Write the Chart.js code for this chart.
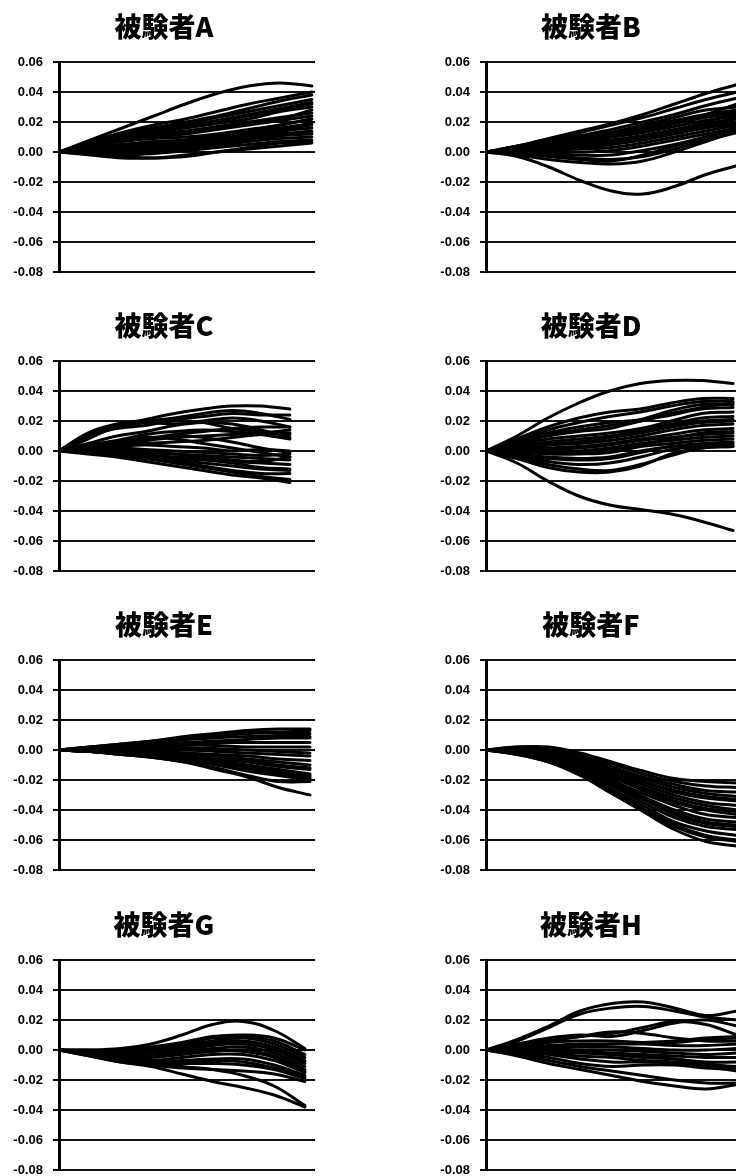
<!DOCTYPE html>
<html>
<head>
<meta charset="utf-8">
<script src="https://cdn.jsdelivr.net/npm/chart.js@4.4.1/dist/chart.umd.min.js"></script>
<style>
  html, body { margin: 0; padding: 0; background: #fff; overflow: hidden; }
  body { width: 736px; height: 1176px; position: relative; }
  canvas { position: absolute; }
</style>
</head>
<body>
<script>
// Titles and axis ticks
const titles = ['被験者A', '被験者B', '被験者C', '被験者D', '被験者E', '被験者F', '被験者G', '被験者H'];
const yTicks = [-0.08, -0.06, -0.04, -0.02, 0.00, 0.02, 0.04, 0.06];
const steps = [0, 1, 2, 3, 4, 5, 6, 7, 8];

// One array of trajectories per subject
const subjectA = [
  [0, 0.008, 0.016, 0.024, 0.032, 0.039, 0.044, 0.046, 0.044],
  [0, 0.007, 0.013, 0.018, 0.022, 0.027, 0.032, 0.036, 0.040],
  [0, 0.006, 0.012, 0.016, 0.020, 0.024, 0.029, 0.034, 0.038],
  [0, 0.006, 0.011, 0.016, 0.019, 0.023, 0.027, 0.031, 0.035],
  [0, 0.006, 0.011, 0.015, 0.018, 0.021, 0.025, 0.029, 0.033],
  [0, 0.005, 0.010, 0.013, 0.016, 0.019, 0.022, 0.027, 0.030],
  [0, 0.004, 0.008, 0.011, 0.013, 0.016, 0.019, 0.022, 0.028],
  [0, 0.005, 0.009, 0.012, 0.014, 0.017, 0.020, 0.023, 0.026],
  [0, 0.004, 0.008, 0.010, 0.012, 0.015, 0.018, 0.021, 0.024],
  [0, 0.004, 0.007, 0.009, 0.010, 0.012, 0.015, 0.018, 0.022],
  [0, 0.001, 0.001, 0.002, 0.003, 0.005, 0.009, 0.013, 0.020],
  [0, 0.003, 0.005, 0.007, 0.008, 0.010, 0.013, 0.016, 0.019],
  [0, 0.002, 0.004, 0.005, 0.006, 0.008, 0.012, 0.015, 0.018],
  [0, 0.003, 0.005, 0.006, 0.007, 0.009, 0.011, 0.014, 0.016],
  [0, 0.002, 0.003, 0.004, 0.005, 0.007, 0.010, 0.012, 0.014],
  [0, -0.001, -0.002, -0.001, 0.001, 0.004, 0.008, 0.011, 0.013],
  [0, 0.001, 0.002, 0.003, 0.004, 0.006, 0.008, 0.011, 0.012],
  [0, 0.000, 0.000, 0.001, 0.002, 0.004, 0.007, 0.009, 0.010],
  [0, -0.001, -0.001, 0.000, 0.001, 0.003, 0.005, 0.007, 0.008],
  [0, -0.002, -0.004, -0.004, -0.003, 0.000, 0.003, 0.006, 0.007],
  [0, -0.001, -0.003, -0.004, -0.002, 0.000, 0.002, 0.004, 0.006],
  [0, 0.002, 0.004, 0.006, 0.008, 0.011, 0.014, 0.018, 0.022],
  [0, 0.005, 0.010, 0.014, 0.017, 0.020, 0.024, 0.028, 0.032]
];
const subjectB = [
  [0, -0.003, -0.010, -0.019, -0.026, -0.028, -0.023, -0.015, -0.009],
  [0, -0.002, -0.005, -0.007, -0.008, -0.006, 0.000, 0.007, 0.014],
  [0, 0.004, 0.009, 0.014, 0.019, 0.025, 0.032, 0.039, 0.045],
  [0, 0.004, 0.008, 0.013, 0.018, 0.023, 0.029, 0.035, 0.040],
  [0, 0.003, 0.007, 0.011, 0.015, 0.020, 0.025, 0.031, 0.036],
  [0, 0.002, 0.004, 0.007, 0.010, 0.014, 0.019, 0.025, 0.032],
  [0, 0.003, 0.006, 0.010, 0.013, 0.017, 0.021, 0.025, 0.028],
  [0, 0.003, 0.006, 0.009, 0.012, 0.016, 0.020, 0.024, 0.027],
  [0, 0.003, 0.006, 0.008, 0.011, 0.015, 0.019, 0.023, 0.026],
  [0, 0.002, 0.005, 0.007, 0.010, 0.013, 0.017, 0.021, 0.024],
  [0, 0.001, 0.002, 0.004, 0.006, 0.010, 0.014, 0.018, 0.023],
  [0, 0.002, 0.004, 0.006, 0.008, 0.011, 0.015, 0.019, 0.022],
  [0, 0.002, 0.003, 0.005, 0.007, 0.009, 0.013, 0.017, 0.020],
  [0, 0.001, 0.002, 0.003, 0.005, 0.008, 0.012, 0.016, 0.019],
  [0, 0.001, 0.001, 0.002, 0.003, 0.006, 0.010, 0.014, 0.018],
  [0, -0.001, -0.003, -0.005, -0.006, -0.002, 0.004, 0.010, 0.017],
  [0, 0.000, 0.000, 0.000, 0.001, 0.004, 0.008, 0.012, 0.016],
  [0, 0.000, -0.001, -0.002, -0.002, 0.001, 0.005, 0.010, 0.015],
  [0, -0.001, -0.002, -0.004, -0.005, -0.003, 0.002, 0.008, 0.013],
  [0, 0.001, 0.003, 0.004, 0.006, 0.009, 0.014, 0.020, 0.026],
  [0, 0.002, 0.005, 0.009, 0.013, 0.018, 0.023, 0.028, 0.030]
];
const subjectC = [
  [0, 0.010, 0.017, 0.021, 0.025, 0.028, 0.030, 0.030, 0.028],
  [0, 0.012, 0.018, 0.020, 0.022, 0.025, 0.027, 0.025, 0.021],
  [0, 0.011, 0.016, 0.019, 0.021, 0.023, 0.025, 0.024, 0.024],
  [0, 0.008, 0.016, 0.019, 0.018, 0.020, 0.022, 0.020, 0.016],
  [0, 0.010, 0.015, 0.017, 0.020, 0.019, 0.015, 0.013, 0.011],
  [0, 0.005, 0.010, 0.013, 0.017, 0.019, 0.018, 0.014, 0.009],
  [0, 0.002, 0.005, 0.008, 0.011, 0.013, 0.015, 0.016, 0.016],
  [0, 0.004, 0.007, 0.011, 0.013, 0.014, 0.013, 0.011, 0.008],
  [0, 0.003, 0.005, 0.007, 0.009, 0.010, 0.011, 0.012, 0.014],
  [0, 0.002, 0.004, 0.005, 0.006, 0.007, 0.009, 0.011, 0.012],
  [0, 0.001, 0.003, 0.004, 0.003, 0.002, 0.000, 0.001, 0.000],
  [0, 0.001, 0.002, 0.001, 0.000, -0.001, -0.002, -0.003, -0.002],
  [0, 0.001, 0.001, 0.000, -0.002, -0.004, -0.006, -0.007, -0.004],
  [0, 0.000, 0.000, -0.001, -0.002, -0.003, -0.004, -0.005, -0.006],
  [0, 0.000, -0.001, -0.002, -0.004, -0.005, -0.007, -0.008, -0.009],
  [0, 0.000, -0.001, -0.003, -0.005, -0.006, -0.008, -0.011, -0.012],
  [0, -0.001, -0.002, -0.004, -0.006, -0.008, -0.010, -0.012, -0.013],
  [0, -0.001, -0.003, -0.005, -0.007, -0.010, -0.013, -0.015, -0.015],
  [0, -0.001, -0.003, -0.005, -0.008, -0.011, -0.014, -0.017, -0.019],
  [0, -0.002, -0.004, -0.007, -0.010, -0.013, -0.016, -0.018, -0.021],
  [0, 0.002, 0.004, 0.007, 0.010, 0.009, 0.006, 0.002, -0.001],
  [0, 0.003, 0.006, 0.009, 0.008, 0.005, 0.002, -0.001, -0.004]
];
const subjectD = [
  [0, 0.010, 0.022, 0.032, 0.040, 0.045, 0.047, 0.047, 0.045],
  [0, -0.008, -0.020, -0.030, -0.036, -0.039, -0.042, -0.047, -0.053],
  [0, 0.008, 0.016, 0.022, 0.026, 0.028, 0.032, 0.035, 0.035],
  [0, 0.007, 0.014, 0.019, 0.023, 0.026, 0.030, 0.033, 0.033],
  [0, 0.006, 0.011, 0.014, 0.017, 0.020, 0.025, 0.029, 0.032],
  [0, 0.006, 0.012, 0.016, 0.019, 0.021, 0.027, 0.031, 0.031],
  [0, 0.005, 0.010, 0.013, 0.015, 0.020, 0.024, 0.028, 0.029],
  [0, 0.004, 0.008, 0.010, 0.012, 0.015, 0.020, 0.025, 0.026],
  [0, 0.003, 0.006, 0.008, 0.010, 0.014, 0.018, 0.022, 0.023],
  [0, 0.003, 0.005, 0.006, 0.009, 0.013, 0.017, 0.020, 0.021],
  [0, 0.002, 0.004, 0.006, 0.009, 0.012, 0.016, 0.019, 0.020],
  [0, 0.002, 0.004, 0.005, 0.007, 0.010, 0.014, 0.017, 0.018],
  [0, 0.001, 0.002, 0.003, 0.005, 0.008, 0.011, 0.014, 0.015],
  [0, 0.000, -0.001, -0.001, 0.001, 0.004, 0.008, 0.012, 0.013],
  [0, 0.001, 0.001, 0.002, 0.004, 0.007, 0.009, 0.011, 0.012],
  [0, 0.000, 0.000, 0.000, 0.002, 0.005, 0.007, 0.009, 0.010],
  [0, -0.001, -0.002, -0.002, -0.001, 0.003, 0.005, 0.007, 0.008],
  [0, -0.002, -0.004, -0.005, -0.004, 0.000, 0.003, 0.005, 0.006],
  [0, -0.003, -0.005, -0.006, -0.005, -0.001, 0.003, 0.004, 0.005],
  [0, -0.003, -0.007, -0.009, -0.008, -0.004, 0.001, 0.003, 0.004],
  [0, -0.004, -0.009, -0.012, -0.013, -0.009, -0.003, 0.002, 0.003],
  [0, -0.005, -0.011, -0.014, -0.014, -0.010, -0.002, 0.002, 0.003]
];
const subjectE = [
  [0, 0.002, 0.004, 0.006, 0.009, 0.011, 0.013, 0.014, 0.014],
  [0, 0.002, 0.004, 0.006, 0.008, 0.010, 0.012, 0.012, 0.013],
  [0, 0.001, 0.003, 0.005, 0.007, 0.009, 0.011, 0.011, 0.011],
  [0, 0.002, 0.003, 0.005, 0.007, 0.008, 0.009, 0.009, 0.009],
  [0, 0.001, 0.003, 0.004, 0.005, 0.006, 0.007, 0.008, 0.008],
  [0, 0.001, 0.002, 0.003, 0.004, 0.005, 0.005, 0.005, 0.005],
  [0, 0.001, 0.002, 0.002, 0.003, 0.003, 0.002, 0.002, 0.002],
  [0, 0.001, 0.001, 0.001, 0.001, 0.001, 0.000, -0.001, -0.002],
  [0, 0.000, 0.000, 0.000, 0.000, -0.001, -0.002, -0.003, -0.004],
  [0, 0.000, -0.001, -0.001, -0.002, -0.003, -0.004, -0.006, -0.007],
  [0, 0.000, -0.001, -0.002, -0.003, -0.004, -0.006, -0.008, -0.010],
  [0, 0.000, 0.000, -0.001, -0.002, -0.004, -0.007, -0.010, -0.012],
  [0, -0.001, -0.001, -0.002, -0.004, -0.006, -0.008, -0.011, -0.013],
  [0, -0.001, -0.002, -0.003, -0.005, -0.007, -0.010, -0.013, -0.016],
  [0, -0.001, -0.002, -0.003, -0.005, -0.008, -0.011, -0.014, -0.017],
  [0, -0.001, -0.002, -0.004, -0.006, -0.009, -0.012, -0.015, -0.018],
  [0, -0.001, -0.002, -0.004, -0.006, -0.009, -0.013, -0.016, -0.019],
  [0, -0.001, -0.003, -0.004, -0.007, -0.010, -0.014, -0.017, -0.020],
  [0, -0.001, -0.003, -0.005, -0.008, -0.012, -0.017, -0.021, -0.021],
  [0, -0.001, -0.003, -0.005, -0.008, -0.013, -0.018, -0.025, -0.030]
];
const subjectF = [
  [0, 0.002, 0.002, -0.002, -0.008, -0.014, -0.019, -0.021, -0.022],
  [0, 0.002, 0.001, -0.003, -0.009, -0.016, -0.021, -0.024, -0.025],
  [0, 0.001, 0.000, -0.004, -0.011, -0.018, -0.023, -0.027, -0.028],
  [0, 0.001, -0.001, -0.005, -0.012, -0.019, -0.025, -0.029, -0.031],
  [0, 0.001, -0.001, -0.006, -0.013, -0.021, -0.027, -0.031, -0.033],
  [0, 0.000, -0.002, -0.007, -0.013, -0.021, -0.028, -0.032, -0.034],
  [0, 0.000, -0.002, -0.008, -0.015, -0.023, -0.030, -0.035, -0.037],
  [0, 0.000, -0.003, -0.009, -0.016, -0.025, -0.032, -0.037, -0.040],
  [0, 0.000, -0.003, -0.009, -0.017, -0.026, -0.034, -0.039, -0.041],
  [0, -0.001, -0.004, -0.010, -0.018, -0.027, -0.035, -0.040, -0.043],
  [0, -0.001, -0.004, -0.011, -0.020, -0.029, -0.037, -0.043, -0.045],
  [0, -0.001, -0.005, -0.012, -0.021, -0.031, -0.040, -0.046, -0.048],
  [0, -0.001, -0.005, -0.012, -0.022, -0.032, -0.042, -0.048, -0.050],
  [0, -0.002, -0.006, -0.013, -0.023, -0.033, -0.043, -0.049, -0.051],
  [0, -0.002, -0.006, -0.014, -0.024, -0.035, -0.045, -0.051, -0.053],
  [0, -0.002, -0.007, -0.015, -0.026, -0.037, -0.048, -0.054, -0.057],
  [0, -0.002, -0.007, -0.015, -0.027, -0.039, -0.050, -0.057, -0.060],
  [0, -0.003, -0.008, -0.016, -0.028, -0.040, -0.051, -0.058, -0.061],
  [0, -0.003, -0.008, -0.017, -0.029, -0.041, -0.053, -0.061, -0.064]
];
const subjectG = [
  [0, 0.000, 0.001, 0.004, 0.010, 0.017, 0.019, 0.013, 0.001],
  [0, 0.000, 0.000, 0.002, 0.005, 0.009, 0.010, 0.008, 0.000],
  [0, -0.001, -0.001, 0.001, 0.004, 0.008, 0.009, 0.006, -0.003],
  [0, -0.001, -0.001, 0.000, 0.003, 0.006, 0.008, 0.004, -0.005],
  [0, -0.001, -0.002, -0.002, 0.001, 0.004, 0.005, 0.001, -0.008],
  [0, -0.001, -0.002, -0.001, 0.002, 0.005, 0.006, 0.002, -0.007],
  [0, -0.002, -0.003, -0.002, 0.000, 0.003, 0.004, 0.000, -0.009],
  [0, -0.002, -0.004, -0.004, -0.001, 0.001, 0.002, -0.002, -0.011],
  [0, -0.002, -0.005, -0.005, -0.003, -0.001, 0.000, -0.004, -0.013],
  [0, -0.002, -0.004, -0.004, -0.002, 0.000, -0.001, -0.005, -0.014],
  [0, -0.003, -0.006, -0.007, -0.005, -0.003, -0.003, -0.007, -0.015],
  [0, -0.003, -0.007, -0.008, -0.007, -0.006, -0.006, -0.010, -0.017],
  [0, -0.003, -0.006, -0.008, -0.008, -0.007, -0.008, -0.012, -0.018],
  [0, -0.003, -0.007, -0.009, -0.009, -0.009, -0.010, -0.013, -0.019],
  [0, -0.004, -0.008, -0.010, -0.012, -0.013, -0.014, -0.016, -0.021],
  [0, -0.004, -0.008, -0.011, -0.016, -0.021, -0.025, -0.030, -0.038],
  [0, -0.003, -0.006, -0.008, -0.011, -0.013, -0.017, -0.024, -0.037]
];
const subjectH = [
  [0, 0.007, 0.016, 0.026, 0.031, 0.032, 0.028, 0.023, 0.026],
  [0, 0.006, 0.015, 0.024, 0.028, 0.029, 0.026, 0.022, 0.020],
  [0, 0.004, 0.008, 0.010, 0.009, 0.013, 0.018, 0.020, 0.016],
  [0, 0.003, 0.007, 0.009, 0.011, 0.015, 0.019, 0.017, 0.010],
  [0, 0.003, 0.006, 0.009, 0.012, 0.011, 0.008, 0.006, 0.006],
  [0, 0.001, 0.002, 0.003, 0.004, 0.005, 0.006, 0.008, 0.009],
  [0, 0.002, 0.005, 0.006, 0.006, 0.005, 0.005, 0.007, 0.008],
  [0, 0.002, 0.003, 0.004, 0.004, 0.004, 0.003, 0.003, 0.004],
  [0, 0.001, 0.002, 0.002, 0.002, 0.001, 0.000, 0.000, 0.001],
  [0, 0.001, 0.001, 0.000, 0.000, -0.001, -0.002, -0.003, -0.002],
  [0, 0.000, 0.000, -0.001, -0.002, -0.003, -0.004, -0.005, -0.005],
  [0, 0.000, -0.001, -0.002, -0.003, -0.005, -0.006, -0.008, -0.008],
  [0, 0.000, -0.001, -0.001, -0.003, -0.004, -0.006, -0.009, -0.012],
  [0, -0.001, -0.002, -0.004, -0.005, -0.007, -0.008, -0.010, -0.011],
  [0, -0.001, -0.003, -0.006, -0.008, -0.008, -0.009, -0.011, -0.014],
  [0, -0.002, -0.005, -0.009, -0.011, -0.010, -0.010, -0.012, -0.013],
  [0, -0.003, -0.007, -0.011, -0.014, -0.017, -0.020, -0.022, -0.022],
  [0, -0.004, -0.009, -0.013, -0.017, -0.021, -0.024, -0.026, -0.023]
];

const panels = [
  { title: titles[0], series: subjectA, xMax: 8.1 },
  { title: titles[1], series: subjectB, xMax: 8.15 },
  { title: titles[2], series: subjectC, xMax: 8.87 },
  { title: titles[3], series: subjectD, xMax: 8.29 },
  { title: titles[4], series: subjectE, xMax: 8.16 },
  { title: titles[5], series: subjectF, xMax: 8.15 },
  { title: titles[6], series: subjectG, xMax: 8.33 },
  { title: titles[7], series: subjectH, xMax: 8.15 }
];

// where each small chart sits on the page
const slots = [
  { left: 0, top: 0 }, { left: 427, top: 0 },
  { left: 0, top: 299 }, { left: 427, top: 299 },
  { left: 0, top: 598 }, { left: 427, top: 598 },
  { left: 0, top: 898 }, { left: 427, top: 898 }
];

panels.forEach(function(p, i) {
  const canvas = document.createElement('canvas');
  canvas.width = 330;
  canvas.height = 300;
  canvas.style.left = slots[i].left + 'px';
  canvas.style.top = slots[i].top + 'px';
  document.body.appendChild(canvas);

  new Chart(canvas.getContext('2d'), {
    type: 'line',
    data: {
      datasets: p.series.map(s => ({
        data: s.map((v, k) => ({ x: steps[k], y: v })),
        borderColor: '#000',
        borderWidth: 3,
        borderCapStyle: 'round',
        pointRadius: 0,
        tension: 0.4,
        fill: false
      }))
    },
    options: {
      responsive: false,
      animation: false,
      layout: { padding: { left: 13, right: 15, top: 0, bottom: 28 } },
      plugins: {
        legend: { display: false },
        tooltip: { enabled: false },
        title: {
          display: true,
          text: p.title,
          color: '#000',
          font: { family: '"Noto Sans CJK JP", sans-serif', size: 27, weight: '900' },
          padding: { top: 11, bottom: 18.6 }
        }
      },
      scales: {
        x: { type: 'linear', display: false, min: 0, max: p.xMax },
        y: {
          min: -0.08,
          max: 0.06,
          afterBuildTicks: function(scale) {
            scale.ticks = yTicks.map(v => ({ value: v }));
          },
          afterFit: function(scale) {
            scale.width = 46;
          },
          ticks: {
            color: '#000',
            padding: 10,
            font: { family: '"Liberation Sans", sans-serif', size: 13, weight: 'bold' },
            callback: function(value) {
              return value.toFixed(2);
            }
          },
          grid: { color: '#111', lineWidth: 2, tickLength: 6, drawTicks: true },
          border: { color: '#000', width: 3 }
        }
      }
    }
  });
});
</script>
</body>
</html>
